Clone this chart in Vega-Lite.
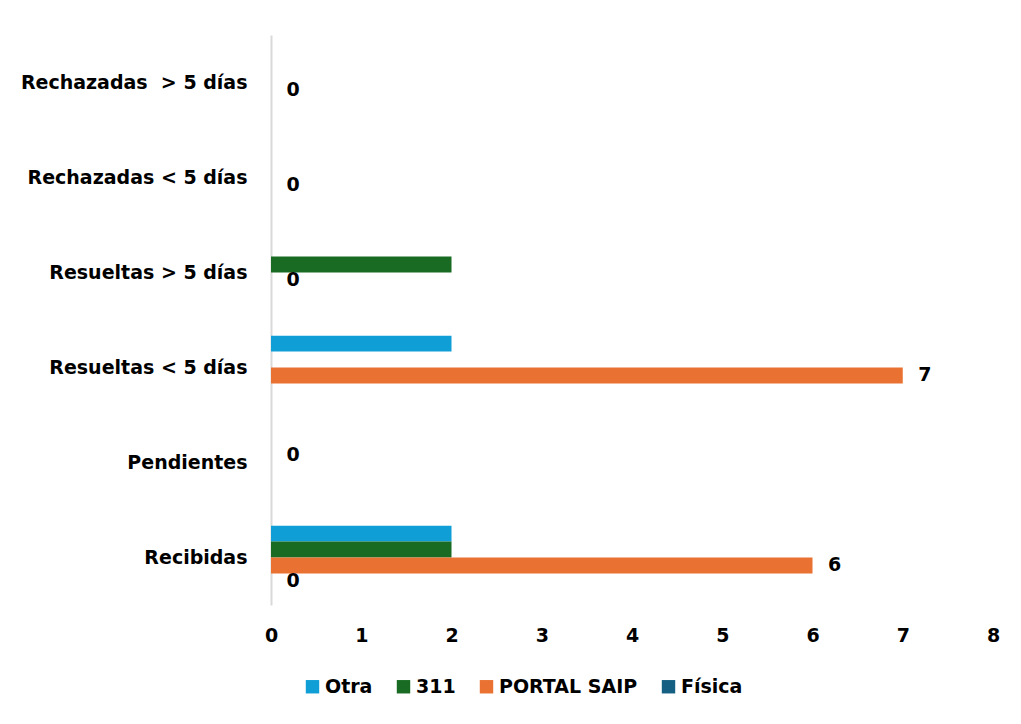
{
  "$schema": "https://vega.github.io/schema/vega-lite/v6.json",
  "autosize": {"type": "none"},
  "width": 722,
  "height": 570,
  "padding": {"left": 271, "top": 35, "right": 28, "bottom": 119},
  "background": "white",
  "config": {
    "view": {"stroke": null},
    "font": "DejaVu Sans",
    "text": {"font": "DejaVu Sans"}
  },
  "data": {
    "values": [
      {"cat": "Recibidas", "serie": "Otra", "v": 2, "lab": false},
      {"cat": "Recibidas", "serie": "311", "v": 2, "lab": false},
      {"cat": "Recibidas", "serie": "PORTAL SAIP", "v": 6, "lab": true},
      {"cat": "Recibidas", "serie": "Física", "v": 0, "lab": true},
      {"cat": "Pendientes", "serie": "Otra", "v": 0, "lab": false},
      {"cat": "Pendientes", "serie": "311", "v": 0, "lab": true},
      {"cat": "Pendientes", "serie": "PORTAL SAIP", "v": 0, "lab": false},
      {"cat": "Pendientes", "serie": "Física", "v": 0, "lab": false},
      {"cat": "Resueltas < 5 días", "serie": "Otra", "v": 2, "lab": false},
      {"cat": "Resueltas < 5 días", "serie": "311", "v": 0, "lab": false},
      {"cat": "Resueltas < 5 días", "serie": "PORTAL SAIP", "v": 7, "lab": true},
      {"cat": "Resueltas < 5 días", "serie": "Física", "v": 0, "lab": false},
      {"cat": "Resueltas > 5 días", "serie": "Otra", "v": 0, "lab": false},
      {"cat": "Resueltas > 5 días", "serie": "311", "v": 2, "lab": false},
      {"cat": "Resueltas > 5 días", "serie": "PORTAL SAIP", "v": 0, "lab": true},
      {"cat": "Resueltas > 5 días", "serie": "Física", "v": 0, "lab": false},
      {"cat": "Rechazadas < 5 días", "serie": "Otra", "v": 0, "lab": false},
      {"cat": "Rechazadas < 5 días", "serie": "311", "v": 0, "lab": false},
      {"cat": "Rechazadas < 5 días", "serie": "PORTAL SAIP", "v": 0, "lab": true},
      {"cat": "Rechazadas < 5 días", "serie": "Física", "v": 0, "lab": false},
      {"cat": "Rechazadas  > 5 días", "serie": "Otra", "v": 0, "lab": false},
      {"cat": "Rechazadas  > 5 días", "serie": "311", "v": 0, "lab": false},
      {"cat": "Rechazadas  > 5 días", "serie": "PORTAL SAIP", "v": 0, "lab": true},
      {"cat": "Rechazadas  > 5 días", "serie": "Física", "v": 0, "lab": false}
    ]
  },
  "encoding": {
    "y": {
      "field": "cat",
      "type": "nominal",
      "sort": ["Rechazadas  > 5 días", "Rechazadas < 5 días", "Resueltas > 5 días", "Resueltas < 5 días", "Pendientes", "Recibidas"],
      "scale": {"paddingInner": 0.33, "paddingOuter": 0.165},
      "axis": {
        "title": null,
        "ticks": false,
        "domain": true,
        "domainColor": "#d9d9d9",
        "domainWidth": 2,
        "labelExpr": "replace(datum.label, '  ', '\u00a0 ')",
        "labelFont": "DejaVu Sans",
        "labelFontWeight": "bold",
        "labelFontSize": 19,
        "labelColor": "#000000",
        "labelPadding": 24,
        "labelLimit": 400
      }
    },
    "yOffset": {
      "field": "serie",
      "type": "nominal",
      "sort": ["Otra", "311", "PORTAL SAIP", "Física"],
      "scale": {"paddingInner": 0, "paddingOuter": 0}
    },
    "x": {
      "field": "v",
      "type": "quantitative",
      "scale": {"domain": [0, 8], "nice": false},
      "axis": {
        "title": null,
        "values": [0, 1, 2, 3, 4, 5, 6, 7, 8],
        "grid": false,
        "ticks": false,
        "domain": false,
        "labelFont": "DejaVu Sans",
        "labelFontWeight": "bold",
        "labelFontSize": 19,
        "labelColor": "#000000",
        "labelPadding": 21,
        "labelFlush": false
      }
    }
  },
  "layer": [
    {
      "mark": {"type": "bar"},
      "encoding": {
        "color": {
          "field": "serie",
          "type": "nominal",
          "sort": ["Otra", "311", "PORTAL SAIP", "Física"],
          "scale": {
            "domain": ["Otra", "311", "PORTAL SAIP", "Física"],
            "range": ["#0F9ED5", "#196B24", "#E97132", "#156082"]
          },
          "legend": {
            "title": null,
            "orient": "none",
            "direction": "horizontal",
            "legendX": 32,
            "legendY": 642,
            "symbolType": "square",
            "symbolSize": 180,
            "symbolStrokeWidth": 0,
            "labelFont": "DejaVu Sans",
            "labelFontWeight": "bold",
            "labelFontSize": 19,
            "labelColor": "#000000",
            "labelOffset": 3,
            "columnPadding": 21,
            "labelLimit": 300
          }
        }
      }
    },
    {
      "transform": [{"filter": "datum.lab"}],
      "mark": {
        "type": "text",
        "align": "center",
        "baseline": "middle",
        "dx": 22,
        "dy": 0,
        "font": "DejaVu Sans",
        "fontWeight": "bold",
        "fontSize": 19,
        "color": "#000000"
      },
      "encoding": {
        "text": {"field": "v", "type": "quantitative"}
      }
    }
  ]
}
